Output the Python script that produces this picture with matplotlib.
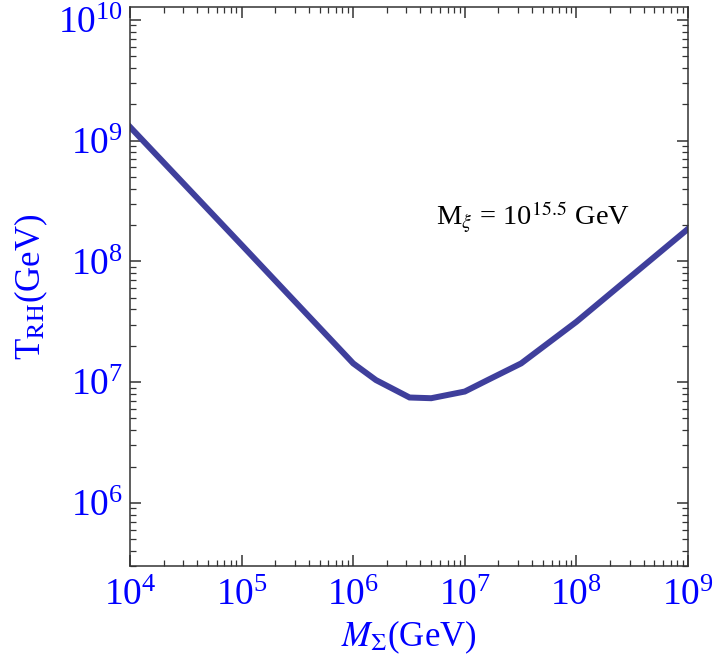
import matplotlib
matplotlib.use("Agg")
import matplotlib.pyplot as plt
from matplotlib.ticker import LogLocator, LogFormatterMathtext, NullFormatter

plt.rcParams['mathtext.fontset'] = 'stix'
plt.rcParams['font.family'] = ['Liberation Serif', 'DejaVu Serif']

# reheating temperature vs M_Sigma
m_sigma = [1e4, 1e5, 1e6, 1.6e6, 3.2e6, 5.0e6, 1.0e7, 1.6e7, 3.2e7, 1.0e8, 1.0e9]
t_rh = [1.30e9, 1.37e8, 1.43e7, 1.04e7, 7.46e6, 7.36e6, 8.36e6, 1.04e7, 1.43e7, 3.16e7, 1.86e8]

blue = '#0000ff'
line_col = '#3f3f9c'

fig = plt.figure(figsize=(7.15, 6.62), dpi=100)
ax = fig.add_axes([130 / 715, 1 - 566 / 662, 558 / 715, 559 / 662])

ax.plot(m_sigma, t_rh, color=line_col, lw=4.3, solid_joinstyle='miter')

ax.set_xscale('log')
ax.set_yscale('log')
ax.set_xlim(1e4, 1e9)
ax.set_ylim(3.0e5, 1.28e10)

for a in (ax.xaxis, ax.yaxis):
    a.set_major_locator(LogLocator(base=10, numticks=20))
    a.set_minor_locator(LogLocator(base=10, subs=range(2, 10), numticks=20))
    a.set_major_formatter(LogFormatterMathtext())
    a.set_minor_formatter(NullFormatter())

ax.tick_params(which='both', direction='in', top=True, right=True,
               colors='#333333', labelcolor=blue, labelsize=27)
ax.tick_params(which='major', length=8, width=1.1)
ax.tick_params(which='minor', length=4, width=0.9)
ax.tick_params(axis='x', pad=9)
ax.tick_params(axis='y', pad=5)
for s in ax.spines.values():
    s.set_color('#333333')
    s.set_linewidth(1.1)

ax.set_xlabel(r'$M_{\Sigma}$(GeV)', color=blue, fontsize=25, labelpad=4)
ax.set_ylabel(r'T$_{\mathrm{RH}}$(GeV)', color=blue, fontsize=25, labelpad=6)

ax.text(0.549, 0.61, r'M$_{\xi}$ = 10$^{15.5}$ GeV', transform=ax.transAxes,
        fontsize=20.5, color='black', ha='left', va='baseline')

fig.savefig('out.png', dpi=100)
